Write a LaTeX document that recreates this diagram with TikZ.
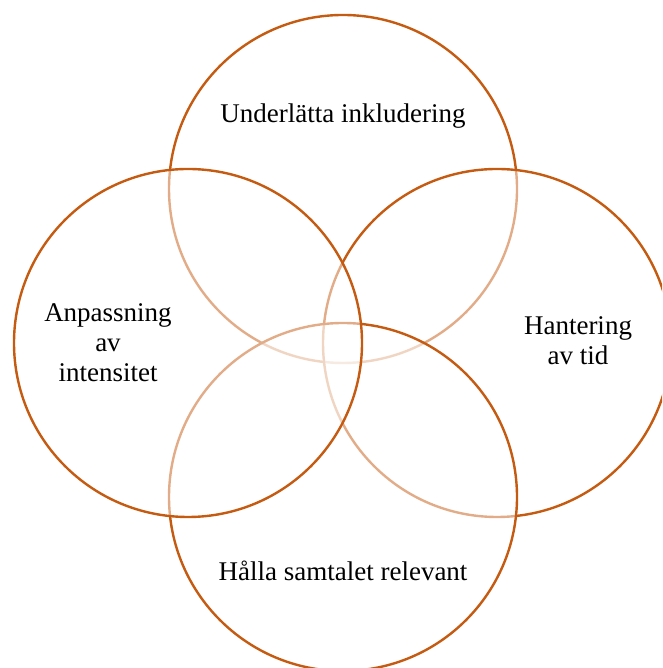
\documentclass[tikz,border=0pt]{standalone}
\usepackage{fontspec}
\setmainfont{Liberation Serif}
\definecolor{vennorange}{HTML}{C55A11}
\tikzset{
	venn/.style={circle, draw=vennorange, line width=2.4pt, fill=white, fill opacity=0.5, minimum size=348pt, inner sep=0pt},
	label/.style={align=center, font=\fontsize{27}{30}\selectfont, text=black}
}

\begin{document}
\begin{tikzpicture}[x=1pt, y=1pt]
			\useasboundingbox (0, 0) rectangle (662, 668);
			\clip (0, 0) rectangle (662, 668);

			\node (cTop)[venn] at (343, 479) {};
			\node (cRight)[venn] at (497, 325) {};
			\node (cBottom)[venn] at (343, 171) {};
			\node (cLeft)[venn] at (188, 325) {};

			\node (tTop)[label] at (343, 552) {Underlätta inkludering};
			\node (tRight)[label] at (578, 327) {Hantering\\av tid};
			\node (tBottom)[label] at (343, 97) {Hålla samtalet relevant};
			\node (tLeft)[label] at (108, 325) {Anpassning\\av\\intensitet};
		\end{tikzpicture}
\end{document}
